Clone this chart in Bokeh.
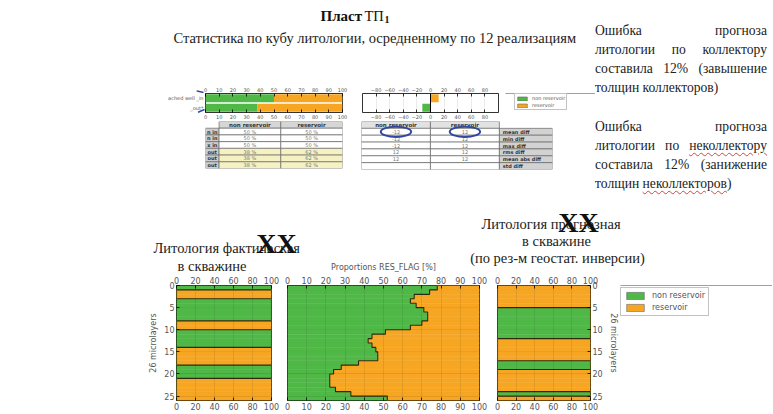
from bokeh.plotting import figure
from bokeh.models import (Range1d, FactorRange, Label, Arrow, NormalHead, Legend, LegendItem,
                          Div, LinearAxis, CategoricalAxis, FixedTicker, ColumnDataSource, Span, Grid)
from bokeh.layouts import row, column
from bokeh.embed import file_html
from bokeh.resources import INLINE
from bokeh.core.properties import value

# ---------------- data ----------------
litho = ["non reservoir", "reservoir"]
prop_rows = ["_out*", "ached well _in"]          # bottom -> top
prop_nonres = [38, 50]                             # % non reservoir
prop_res = [62, 50]                                # % reservoir
diff_values = [-12, 12]                            # out* - in  (non reservoir, reservoir)

table1_rows = ["n in", "n in", "x in", "out", "out", "out"]
table1_nonres = ["50 %", "50 %", "50 %", "38 %", "38 %", "38 %"]
table1_res = ["50 %", "50 %", "50 %", "62 %", "62 %", "62 %"]

table2_stats = ["mean diff", "min diff", "max diff", "rms diff", "mean abs diff", "std diff"]
table2_nonres = ["-12", "-12", "-12", "12", "12", ""]
table2_res = ["12", "12", "12", "12", "12", ""]

# 26 microlayers, top -> bottom ; facies 0 = non reservoir, 1 = reservoir
well_facies = [0, 1, 1, 0, 0, 0, 0, 0, 1, 1, 0, 0, 0, 0, 1, 1, 1, 1, 0, 0, 0, 1, 1, 1, 1, 1]
pred_facies = [1, 1, 1, 1, 1, 0, 0, 0, 0, 0, 0, 0, 1, 1, 1, 1, 1, 0, 0, 1, 1, 1, 1, 1, 0, 1]
# % non reservoir per microlayer, averaged over 12 realisations
avg_nonres = [78, 74, 66, 64, 67, 71, 73, 73, 70, 64, 51, 44, 42, 44, 46, 47, 47, 37,
              28, 24, 22, 22, 22, 25, 33, 52]

ticks_10 = [0, 10, 20, 30, 40, 50, 60, 70, 80, 90, 100]
ticks_20 = [0, 20, 40, 60, 80, 100]
ticks_diff = [-80, -60, -40, -20, 0, 20, 40, 60, 80]
ticks_layers = [0, 5, 10, 15, 20, 25]

# ---------------- style ----------------
GREEN = "#4fb847"
ORANGE = "#f7a623"
TICKC = "#555555"
SERIF = "Liberation Serif"
SANS = "DejaVu Sans"
BLUE = "#3447a0"


def base_fig(c, f=None, **kw):
    cx0, cy0, cx1, cy1 = c
    if f is None:
        f = c
    fx0, fy0, fx1, fy1 = f
    p = figure(width=cx1 - cx0, height=cy1 - cy0, title=None,
               min_border_left=fx0 - cx0, min_border_right=cx1 - fx1,
               min_border_top=fy0 - cy0, min_border_bottom=cy1 - fy1,
               toolbar_location=None, output_backend="svg",
               x_axis_type=None, y_axis_type=None, **kw)
    p.outline_line_color = None
    p.background_fill_color = "white"
    p.border_fill_color = "white"
    return p, (fx0, fy1)


def txt(p, g, X, Y, text, size, font=SERIF, color="#222222", align="left",
        baseline="middle", style="normal", angle=0.0):
    p.add_layout(Label(x=X - g[0], y=g[1] - Y, x_units="screen", y_units="screen",
                       text=text, text_font=font, text_font_size=f"{size}px",
                       text_color=color, text_align=align, text_baseline=baseline,
                       text_font_style=style, angle=angle))


def lin_axis(p, side, ticks, size, tick_in=3):
    ax = LinearAxis(ticker=FixedTicker(ticks=ticks))
    ax.axis_line_color = None
    ax.major_tick_in = tick_in
    ax.major_tick_out = 0
    ax.minor_tick_in = 0
    ax.minor_tick_out = 0
    ax.major_tick_line_color = "black"
    ax.major_tick_line_width = 0.8
    ax.major_label_text_font = SANS
    ax.major_label_text_font_size = f"{size}px"
    ax.major_label_text_color = TICKC
    ax.major_label_standoff = 2
    p.add_layout(ax, side)
    return ax


def faint_grid(p, dim, ticks):
    p.add_layout(Grid(dimension=dim, ticker=FixedTicker(ticks=ticks), grid_line_color="black",
                      grid_line_alpha=0.1, grid_line_width=0.8, level="overlay"))


def legend_fig(c, f, loc, size, gw, gh, pad, spacing, standoff):
    # a small figure that only carries the legend; its swatch renderers lie outside the view.
    # f = the frame this figure gets once aligned with its row neighbours
    p, g = base_fig(c, f, x_range=Range1d(0, 1), y_range=Range1d(0, 1))
    rs = []
    for k, col in enumerate((GREEN, ORANGE)):
        rs.append(p.hbar(y=[5 + k], left=[0], right=[1], height=1, fill_color=col,
                         line_color="#666666", line_width=0.6))
    leg = Legend(items=[LegendItem(label=value(litho[0]), renderers=[rs[0]]),
                        LegendItem(label=value(litho[1]), renderers=[rs[1]])], location=loc)
    leg.orientation = "vertical"
    leg.label_text_font = SANS
    leg.label_text_font_size = f"{size}px"
    leg.label_text_color = TICKC
    leg.glyph_width = gw
    leg.glyph_height = gh
    leg.label_height = gh
    leg.padding = pad
    leg.spacing = spacing
    leg.margin = 0
    leg.label_standoff = standoff
    leg.border_line_color = "#888888"
    p.add_layout(leg)
    return p


# ================= TOP (y 0..206) =================
H, gH = base_fig((0, 0, 595, 50), x_range=Range1d(0, 1), y_range=Range1d(0, 1))
txt(H, gH, 320, 15, "Пласт", 15, style="bold", color="#111111")
txt(H, gH, 364, 15, "ТП", 14.5, color="#111111")
txt(H, gH, 384, 19, "1", 10, style="bold", color="#111111")
txt(H, gH, 173, 37, "Статистика по кубу литологии, осредненному по 12 реализациям", 14.5)

# proportions bar chart
A1, gA1 = base_fig((0, 50, 352, 121), (205, 93, 342, 113),
                   x_range=Range1d(0, 100), y_range=FactorRange(factors=prop_rows))
A1.outline_line_color = "black"
A1.outline_line_width = 0.8
srcA = ColumnDataSource(dict(y=prop_rows, nonres=prop_nonres, res=prop_res))
A1.hbar(y="y", left=0, right="nonres", height=0.86, fill_color=GREEN, line_color=None, source=srcA)
A1.hbar(y="y", left="nonres", right=100, height=0.86, fill_color=ORANGE, line_color=None, source=srcA)
lin_axis(A1, "above", ticks_10, 5)
lin_axis(A1, "below", ticks_10, 5)
cax = CategoricalAxis()
cax.axis_line_color = None
cax.major_tick_in = 0
cax.major_tick_out = 0
cax.major_label_text_font = SANS
cax.major_label_text_font_size = "5px"
cax.major_label_text_color = TICKC
cax.major_label_standoff = 2
A1.add_layout(cax, "left")
txt(A1, gA1, 273, 82, "Proportions RES_FLAG [%]", 5.5, font=SANS, color=TICKC, align="center")
txt(A1, gA1, 25, 78, "Входная статистика", 14.5)
txt(A1, gA1, 47, 95, "по литологии", 14.5)
txt(A1, gA1, 27, 112, "(по скважине", 14.5)
txt(A1, gA1, 150, 105, "XX", 28, style="bold", color="#111111", align="center")
A1.add_layout(Arrow(x_start=147 - gA1[0], y_start=gA1[1] - 80, x_end=203 - gA1[0], y_end=gA1[1] - 93,
                    start_units="screen", end_units="screen", line_color=BLUE, line_width=1.6,
                    end=NormalHead(size=7, fill_color=BLUE, line_color=BLUE)))
A1.add_layout(Arrow(x_start=140 - gA1[0], y_start=gA1[1] - 137, x_end=204 - gA1[0], y_end=gA1[1] - 110,
                    start_units="screen", end_units="screen", line_color=BLUE, line_width=1.6,
                    end=NormalHead(size=7, fill_color=BLUE, line_color=BLUE)))

# table 1
A2, gA2 = base_fig((0, 121, 352, 206), (190, 121, 342, 168),
                   x_range=Range1d(-0.22, 2), y_range=Range1d(7, 0))
n1 = len(table1_rows)
ql, qr, qt, qb, qc = [], [], [], [], []
for j in range(2):
    ql.append(j); qr.append(j + 1); qt.append(0); qb.append(1); qc.append("#d6d6d6")
for i in range(n1):
    is_out = table1_rows[i] == "out"
    ql.append(-0.22); qr.append(0); qt.append(i + 1); qb.append(i + 2); qc.append("#cdcdcd")
    for j in range(2):
        ql.append(j); qr.append(j + 1); qt.append(i + 1); qb.append(i + 2)
        qc.append("#f6f1c2" if is_out else "white")
A2.quad(left=ql, right=qr, top=qt, bottom=qb, fill_color=qc, line_color="#666666", line_width=0.7)
A2.text(x=[0.5, 1.5], y=[0.5, 0.5], text=litho, text_font=value(SANS), text_font_size="5.5px",
        text_font_style="bold", text_align="center", text_baseline="middle", text_color="#333333")
A2.text(x=[-0.11] * n1, y=[i + 1.5 for i in range(n1)], text=table1_rows, text_font=value(SANS),
        text_font_size="5px", text_font_style="bold", text_align="center", text_baseline="middle",
        text_color="#333333")
A2.text(x=[0.5] * n1 + [1.5] * n1, y=[i + 1.5 for i in range(n1)] * 2, text=table1_nonres + table1_res,
        text_font=value(SANS), text_font_size="5px", text_align="center", text_baseline="middle",
        text_color="#777777")
txt(A2, gA2, 8, 136, "Выходная статистика", 14.5)
txt(A2, gA2, 12, 153, "по литологии", 14.5)
txt(A2, gA2, 6, 172, "(по рез-м геостат. инверсии)", 14.5)
A2.add_layout(Arrow(x_start=140 - gA2[0], y_start=gA2[1] - 137, x_end=204 - gA2[0], y_end=gA2[1] - 110,
                    start_units="screen", end_units="screen", line_color=BLUE, line_width=1.6, end=None))

# difference chart
B1, gB1 = base_fig((352, 50, 505, 121), (362, 93, 498, 113),
                   x_range=Range1d(-100, 100), y_range=FactorRange(factors=litho))
B1.outline_line_color = "black"
B1.outline_line_width = 0.8
faint_grid(B1, 0, ticks_diff)
for k, col in enumerate([GREEN, ORANGE]):
    B1.hbar(y=[litho[k]], left=0, right=[diff_values[k]], height=0.86, fill_color=col, line_color=None)
B1.add_layout(Span(location=0, dimension="height", line_color="black", line_width=1))
lin_axis(B1, "above", ticks_diff, 5)
lin_axis(B1, "below", ticks_diff, 5)
txt(B1, gB1, 430, 83, "Difference ( out* - in)", 5.5, font=SANS, color=TICKC, align="center")

# legend frame is aligned with B1's frame (y 93..113)
B1L = legend_fig((505, 50, 595, 121), (505, 93, 595, 113), (9, 2), 5, 12, 5, 1, 1, 4)

# difference table
B2, gB2 = base_fig((352, 121, 595, 206), (361, 121, 552, 169),
                   x_range=Range1d(0, 2.77), y_range=Range1d(7, 0))
n2 = len(table2_stats)
ql, qr, qt, qb, qc = [], [], [], [], []
for j in range(2):
    ql.append(j); qr.append(j + 1); qt.append(0); qb.append(1); qc.append("#e2e2e2")
for i in range(n2):
    for j in range(2):
        ql.append(j); qr.append(j + 1); qt.append(i + 1); qb.append(i + 2); qc.append("white")
    ql.append(2); qr.append(2.77); qt.append(i + 1); qb.append(i + 2); qc.append("#d2d2d2")
B2.quad(left=ql, right=qr, top=qt, bottom=qb, fill_color=qc, line_color="#666666", line_width=0.7)
B2.text(x=[0.5, 1.5], y=[0.5, 0.5], text=litho, text_font=value(SANS), text_font_size="5.5px",
        text_font_style="bold", text_align="center", text_baseline="middle", text_color="#333333")
B2.text(x=[2.05] * n2, y=[i + 1.5 for i in range(n2)], text=table2_stats, text_font=value(SANS),
        text_font_size="5px", text_font_style="bold", text_align="left", text_baseline="middle",
        text_color="#333333")
B2.text(x=[0.5] * n2 + [1.5] * n2, y=[i + 1.5 for i in range(n2)] * 2, text=table2_nonres + table2_res,
        text_font=value(SANS), text_font_size="5px", text_align="center", text_baseline="middle",
        text_color="#777777")
B2.ellipse(x=[0.5, 1.5], y=[1.5, 1.5], width=0.44, height=1.5, fill_color=None,
           line_color=BLUE, line_width=2)

# right text block
span_u = ("text-decoration: underline wavy #d04848; text-decoration-thickness: 1px; "
          "text-underline-offset: 2px;")
jl = "text-align: justify; text-align-last: justify; white-space: nowrap;"
html = f"""
<div style="font-family: '{SERIF}'; font-size: 13.6px; line-height: 19px; color: #222; width: 172px;
            padding-top: 21px;">
  <div style="{jl}">Ошибка прогноза</div>
  <div style="{jl}">литологии по коллектору</div>
  <div style="{jl}">составила 12% (завышение</div>
  <div style="white-space: nowrap;">толщин коллекторов)</div>
  <div style="height: 20px;"></div>
  <div style="{jl}">Ошибка прогноза</div>
  <div style="{jl}">литологии по <span style="{span_u}">неколлектору</span></div>
  <div style="{jl}">составила 12% (занижение</div>
  <div style="white-space: nowrap;">толщин <span style="{span_u}">неколлекторов</span>)</div>
</div>
"""
R = Div(text=html, width=177, height=206, margin=(0, 0, 0, 0))

# ================= BOTTOM (y 206..412) =================
BH, gBH = base_fig((0, 206, 772, 272), x_range=Range1d(0, 1), y_range=Range1d(0, 1))
txt(BH, gBH, 153, 247, "Литология фактическая", 14.5)
txt(BH, gBH, 177, 265, "в скважине", 14.5)
txt(BH, gBH, 276, 243, "XX", 28, style="bold", color="#111111", align="center")
txt(BH, gBH, 481, 223, "Литология прогнозная", 14.5)
txt(BH, gBH, 578, 222, "XX", 28, style="bold", color="#111111", align="center")
txt(BH, gBH, 556, 240, "в скважине", 14.5, align="center")
txt(BH, gBH, 557, 257, "(по рез-м геостат. инверсии)", 14.5, align="center")
txt(BH, gBH, 383, 267, "Proportions RES_FLAG [%]", 8, font=SANS, color=TICKC, align="center")


def layer_panel(c, f, nonres, xticks, label_side):
    p, g = base_fig(c, f, x_range=Range1d(0, 100), y_range=Range1d(26, 0))
    p.outline_line_color = "black"
    p.outline_line_width = 1
    n = len(nonres)
    ys = [i + 0.5 for i in range(n)]
    p.hbar(y=ys, left=0, right=nonres, height=1, fill_color=GREEN, line_color=GREEN, line_width=0.5)
    p.hbar(y=ys, left=nonres, right=100, height=1, fill_color=ORANGE, line_color=ORANGE, line_width=0.5)
    sx, sy = [], []
    for i, v in enumerate(nonres):
        sx += [v, v]
        sy += [i, i + 1]
    p.line(sx, sy, line_color="#2d2a12", line_width=1.1)
    faint_grid(p, 0, xticks)
    faint_grid(p, 1, ticks_layers)
    lin_axis(p, "above", xticks, 8)
    lin_axis(p, "below", xticks, 8)
    if label_side is not None:
        ax = lin_axis(p, label_side, ticks_layers, 8)
        ax.axis_label = "26 microlayers"
        ax.axis_label_text_font = SANS
        ax.axis_label_text_font_size = "8px"
        ax.axis_label_text_font_style = "normal"
        ax.axis_label_text_color = TICKC
        ax.axis_label_standoff = 3
    return p


well_nonres = [100 if f == 0 else 0 for f in well_facies]
pred_nonres = [100 if f == 0 else 0 for f in pred_facies]

L = layer_panel((0, 272, 280, 412), (176, 285, 271, 400), well_nonres, ticks_20, "left")
C = layer_panel((280, 272, 488, 412), (287, 285, 479, 400), avg_nonres, ticks_10, None)
Rp = layer_panel((488, 272, 620, 412), (497, 285, 592, 400), pred_nonres, ticks_20, "right")
# legend frame is aligned with the panels' frames (y 285..400)
RL = legend_fig((620, 272, 772, 412), (620, 285, 772, 400), (0, 400 - 316), 8, 22, 9, 3, 3, 6)

top = row(column(H, row(column(A1, A2), column(row(B1, B1L), B2))), R)
bottom = column(BH, row(L, C, Rp, RL))
page = column(top, bottom)

open("out.html", "w").write(file_html(page, INLINE))
